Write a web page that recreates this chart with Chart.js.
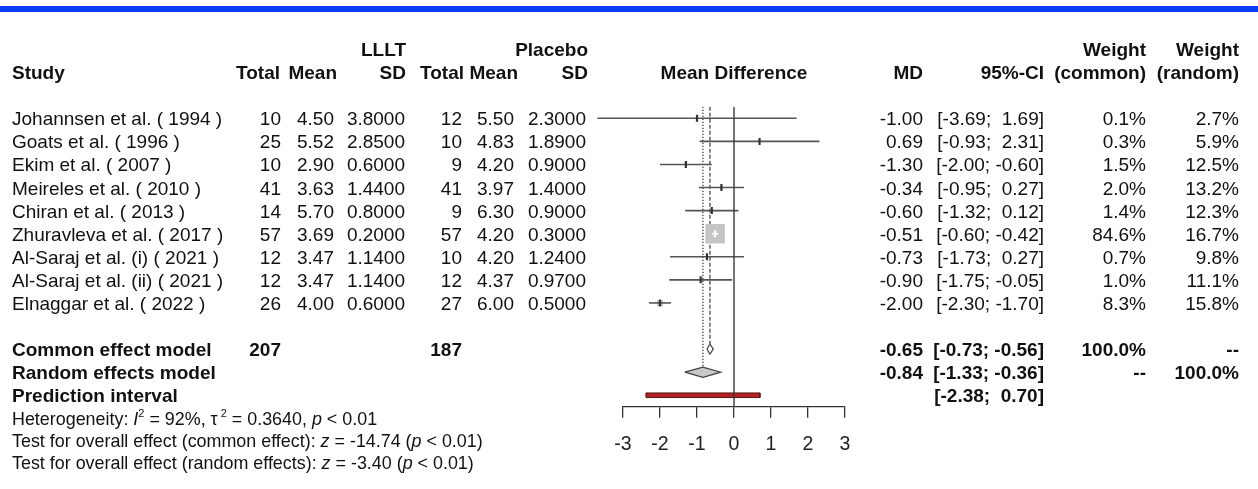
<!DOCTYPE html>
<html>
<head>
<meta charset="utf-8">
<script src="https://cdn.jsdelivr.net/npm/chart.js@4.4.1/dist/chart.umd.min.js"></script>
<style>
  body { margin: 0; background: #fff; }
  #wrap { position: relative; width: 1258px; height: 489px; overflow: hidden; font-family: "Liberation Sans", Arial, sans-serif; }
  #topbar { position: absolute; left: 0; top: 6px; width: 1258px; height: 6px; background: #0c3cf6; }
  #forest { position: absolute; left: 0; top: 0; }
  #txt { position: absolute; left: 0; top: 0; width: 1258px; height: 489px; }
  .t { position: absolute; white-space: pre; font-size: 19px; line-height: 22px; color: #111; }
  .b { font-weight: bold; }
  .t sup { font-size: 11px; line-height: 0; vertical-align: 8px; }
</style>
</head>
<body>
<div id="wrap">
  <div id="topbar"></div>
  <canvas id="forest" width="1258" height="489"></canvas>
  <div id="txt"></div>
</div>
<script>
// study data
const studies = [
  "Johannsen et al. ( 1994 )",
  "Goats et al. ( 1996 )",
  "Ekim et al. ( 2007 )",
  "Meireles et al. ( 2010 )",
  "Chiran et al. ( 2013 )",
  "Zhuravleva et al. ( 2017 )",
  "Al-Saraj et al. (i) ( 2021 )",
  "Al-Saraj et al. (ii) ( 2021 )",
  "Elnaggar et al. ( 2022 )"
];
const llltTotal = [10, 25, 10, 41, 14, 57, 12, 12, 26];
const llltMean = [4.50, 5.52, 2.90, 3.63, 5.70, 3.69, 3.47, 3.47, 4.00];
const llltSD = [3.8, 2.85, 0.6, 1.44, 0.8, 0.2, 1.14, 1.14, 0.6];
const placeboTotal = [12, 10, 9, 41, 9, 57, 10, 12, 27];
const placeboMean = [5.50, 4.83, 4.20, 3.97, 6.30, 4.20, 4.20, 4.37, 6.00];
const placeboSD = [2.3, 1.89, 0.9, 1.4, 0.9, 0.3, 1.24, 0.97, 0.5];
const md = [-1.00, 0.69, -1.30, -0.34, -0.60, -0.51, -0.73, -0.90, -2.00];
const ciLow = [-3.69, -0.93, -2.00, -0.95, -1.32, -0.60, -1.73, -1.75, -2.30];
const ciHigh = [1.69, 2.31, -0.60, 0.27, 0.12, -0.42, 0.27, -0.05, -1.70];
const weightCommon = [0.1, 0.3, 1.5, 2.0, 1.4, 84.6, 0.7, 1.0, 8.3];
const weightRandom = [2.7, 5.9, 12.5, 13.2, 12.3, 16.7, 9.8, 11.1, 15.8];

// pooled results: [estimate, lower, upper]
const commonEffect = [-0.65, -0.73, -0.56];
const randomEffects = [-0.84, -1.33, -0.36];
const predictionInterval = [-2.38, 0.70];
const pooledTotals = [207, 187];
const xTicks = [-3, -2, -1, 0, 1, 2, 3];

// layout
const W = 1258, H = 489;
const PLOT_LEFT = 623, PLOT_RIGHT = 845;
const ROW0 = 118.3, ROW_H = 23.08;
const ROW_COMMON = 10, ROW_RANDOM = 11, ROW_PRED = 12;
const pxPerUnit = (PLOT_RIGHT - PLOT_LEFT) / (xTicks[xTicks.length - 1] - xTicks[0]);
const maxW = Math.max(...weightCommon);
const squareSide = w => 19.5 * Math.sqrt(w / maxW);

// ---------- text table ----------
const layer = document.getElementById("txt");
function put(text, x, y, o = {}) {
  const d = document.createElement("div");
  d.className = "t" + (o.bold ? " b" : "");
  if (o.html) d.innerHTML = text; else d.textContent = text;
  d.style.top = (y - 11) + "px";
  if (o.size) d.style.fontSize = o.size + "px";
  if (o.align === "right") d.style.right = (W - x) + "px";
  else if (o.align === "center") { d.style.left = x + "px"; d.style.transform = "translateX(-50%)"; }
  else d.style.left = x + "px";
  layer.appendChild(d);
}
const rowY = r => ROW0 + 1 + ROW_H * r;
const f2 = v => v.toFixed(2);
const ci = (lo, hi) => "[" + (lo < 0 ? "" : " ") + f2(lo) + "; " + (hi < 0 ? "" : " ") + f2(hi) + "]";
const R = { align: "right" }, RB = { align: "right", bold: true };

// header right edges and value right edges differ slightly in the original
const head = { n1: 280, m1: 337, sd1: 406, n2: 464, m2: 518, sd2: 588 };
const col = { study: 12, n1: 281, m1: 334, sd1: 405, n2: 462, m2: 514, sd2: 586, md: 923, ci: 1044, wc: 1146, wr: 1239 };

put("LLLT", head.sd1, 50, RB);
put("Placebo", head.sd2, 50, RB);
put("Weight", col.wc, 50, RB);
put("Weight", col.wr, 50, RB);
put("Study", col.study, 73.3, { bold: true });
put("Total", head.n1, 73.3, RB);
put("Mean", head.m1, 73.3, RB);
put("SD", head.sd1, 73.3, RB);
put("Total", head.n2, 73.3, RB);
put("Mean", head.m2, 73.3, RB);
put("SD", head.sd2, 73.3, RB);
put("Mean Difference", 734, 73.3, { align: "center", bold: true });
put("MD", col.md, 73.3, RB);
put("95%-CI", col.ci, 73.3, RB);
put("(common)", col.wc, 73.3, RB);
put("(random)", col.wr, 73.3, RB);

studies.forEach((s, i) => {
  const y = rowY(i);
  put(s, col.study, y);
  put(String(llltTotal[i]), col.n1, y, R);
  put(f2(llltMean[i]), col.m1, y, R);
  put(llltSD[i].toFixed(4), col.sd1, y, R);
  put(String(placeboTotal[i]), col.n2, y, R);
  put(f2(placeboMean[i]), col.m2, y, R);
  put(placeboSD[i].toFixed(4), col.sd2, y, R);
  put(f2(md[i]), col.md, y, R);
  put(ci(ciLow[i], ciHigh[i]), col.ci, y, R);
  put(weightCommon[i].toFixed(1) + "%", col.wc, y, R);
  put(weightRandom[i].toFixed(1) + "%", col.wr, y, R);
});

let y = rowY(ROW_COMMON);
put("Common effect model", col.study, y, { bold: true });
put(String(pooledTotals[0]), col.n1, y, RB);
put(String(pooledTotals[1]), col.n2, y, RB);
put(f2(commonEffect[0]), col.md, y, RB);
put(ci(commonEffect[1], commonEffect[2]), col.ci, y, RB);
put("100.0%", col.wc, y, RB);
put("--", col.wr, y, RB);
y = rowY(ROW_RANDOM);
put("Random effects model", col.study, y, { bold: true });
put(f2(randomEffects[0]), col.md, y, RB);
put(ci(randomEffects[1], randomEffects[2]), col.ci, y, RB);
put("--", col.wc, y, RB);
put("100.0%", col.wr, y, RB);
y = rowY(ROW_PRED);
put("Prediction interval", col.study, y, { bold: true });
put(ci(predictionInterval[0], predictionInterval[1]), col.ci, y, RB);

put("Heterogeneity: <i>I</i><sup>2</sup> = 92%, \u03c4<sup> 2</sup> = 0.3640, <i>p</i> &lt; 0.01", col.study, 419, { html: true, size: 17.9 });
put("Test for overall effect (common effect): <i>z</i> = -14.74 (<i>p</i> &lt; 0.01)", col.study, 441, { html: true, size: 17.9 });
put("Test for overall effect (random effects): <i>z</i> = -3.40 (<i>p</i> &lt; 0.01)", col.study, 463, { html: true, size: 17.9 });

// ---------- forest plot ----------
const LINE = "#555", REF = "#3a3a3a";
const datasets = [];

// reference lines (beneath everything)
datasets.push({
  data: [{ x: commonEffect[0], y: -0.5 }, { x: commonEffect[0], y: ROW_COMMON - 0.22 }],
  showLine: true, pointRadius: 0, borderColor: REF, borderWidth: 1.2, borderDash: [4, 2], order: 9
});
datasets.push({
  data: [{ x: randomEffects[0], y: -0.5 }, { x: randomEffects[0], y: ROW_RANDOM - 0.22 }],
  showLine: true, pointRadius: 0, borderColor: REF, borderWidth: 1.3, borderDash: [1.3, 1.7], order: 9
});

// study squares
datasets.push({
  data: md.map((v, i) => ({ x: v, y: i })),
  pointStyle: "rect",
  pointRadius: weightCommon.map(w => Math.max(0.5, squareSide(w) / Math.SQRT2)),
  pointBackgroundColor: "#c4c4c4", pointBorderWidth: 0, order: 8
});

// confidence intervals (white if fully inside the square); not clipped at the axis range
const inside = md.map((v, i) => {
  const half = squareSide(weightCommon[i]) / 2 / pxPerUnit;
  return ciLow[i] >= v - half && ciHigh[i] <= v + half;
});
md.forEach((v, i) => {
  datasets.push({
    data: [{ x: ciLow[i], y: i }, { x: ciHigh[i], y: i }],
    showLine: true, pointRadius: 0, clip: false,
    borderColor: inside[i] ? "#fff" : LINE, borderWidth: 1.6, order: 7
  });
});

// estimate ticks
datasets.push({
  data: md.map((v, i) => ({ x: v, y: i })),
  pointStyle: "line", rotation: 90, pointRadius: 3.5, pointBorderWidth: 2.2,
  pointBorderColor: inside.map(f => f ? "#fff" : "#333"), order: 6
});

// diamonds
const diamond = (e, r) => [
  { x: e[1], y: r }, { x: e[0], y: r - 0.22 }, { x: e[2], y: r }, { x: e[0], y: r + 0.22 }, { x: e[1], y: r }
];
datasets.push({
  data: diamond(commonEffect, ROW_COMMON), showLine: true, pointRadius: 0, tension: 0,
  borderColor: "#444", borderWidth: 1.2, backgroundColor: "#fff", fill: "shape", order: 5
});
datasets.push({
  data: diamond(randomEffects, ROW_RANDOM), showLine: true, pointRadius: 0, tension: 0,
  borderColor: "#444", borderWidth: 1.2, backgroundColor: "#c8c8c8", fill: "shape", order: 5
});

// prediction interval bar
const [pLo, pHi] = predictionInterval;
datasets.push({
  data: [
    { x: pLo, y: ROW_PRED - 0.1 }, { x: pHi, y: ROW_PRED - 0.1 },
    { x: pHi, y: ROW_PRED + 0.1 }, { x: pLo, y: ROW_PRED + 0.1 }, { x: pLo, y: ROW_PRED - 0.1 }
  ],
  showLine: true, pointRadius: 0, borderColor: "#5a1414", borderWidth: 1,
  backgroundColor: "#b22222", fill: "shape", order: 4
});

// line of no effect (on top)
datasets.push({
  data: [{ x: 0, y: -0.5 }, { x: 0, y: ROW_PRED + 0.5 }],
  showLine: true, pointRadius: 0, borderColor: REF, borderWidth: 1.4, order: 1
});

const X_AXIS_H = 70;
new Chart(document.getElementById("forest"), {
  type: "scatter",
  data: { datasets },
  options: {
    responsive: false,
    animation: false,
    devicePixelRatio: 1,
    layout: {
      padding: {
        left: PLOT_LEFT,
        right: W - PLOT_RIGHT,
        top: ROW0 - 0.5 * ROW_H,
        bottom: H - (ROW0 + (ROW_PRED + 0.5) * ROW_H) - X_AXIS_H
      }
    },
    plugins: { legend: { display: false }, tooltip: { enabled: false } },
    scales: {
      x: {
        type: "linear",
        min: xTicks[0],
        max: xTicks[xTicks.length - 1],
        afterFit: s => { s.height = X_AXIS_H; },
        afterBuildTicks: s => { s.ticks = xTicks.map(v => ({ value: v })); },
        grid: { display: true, drawOnChartArea: false, drawTicks: true, tickLength: 11, color: "#333", lineWidth: 1.3 },
        border: { display: true, color: "#333", width: 1.3 },
        ticks: { color: "#222", padding: 15, font: { family: "Liberation Sans", size: 19.5 }, maxRotation: 0 }
      },
      y: {
        type: "linear",
        reverse: true,
        min: -0.5,
        max: ROW_PRED + 0.5,
        display: false
      }
    }
  }
});
</script>
</body>
</html>
